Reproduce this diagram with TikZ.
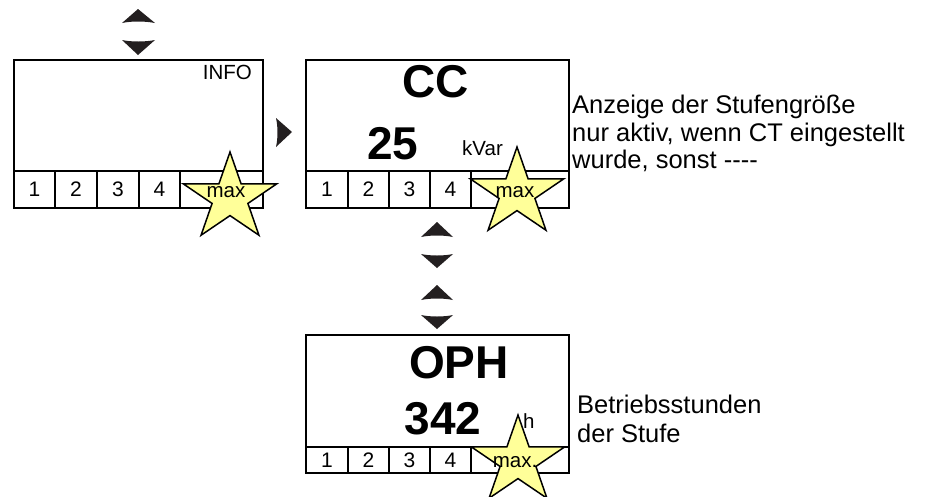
\documentclass[tikz,border=0pt]{standalone}
\usepackage{fontspec}
\setmainfont{Liberation Sans}
\definecolor{tri}{HTML}{231F20}
\definecolor{starfill}{HTML}{FFFF99}
\tikzset{
  frame/.style={draw=black, line width=2pt, inner sep=0pt, anchor=north west},
  cellbox/.style={draw=black, line width=2pt, inner sep=0pt, anchor=north west, font=\fontsize{21}{22}\selectfont},
  small/.style={inner sep=0pt, font=\fontsize{20.5}{22}\selectfont},
  big/.style={inner sep=0pt, anchor=base, font=\fontsize{46}{50}\bfseries\selectfont},
  side/.style={inner sep=0pt, anchor=base west, font=\fontsize{25.5}{28}\selectfont},
  tri/.style={fill=tri, draw=none},
  pics/mystar/.style={code={
    \begin{scope}[xscale=1.07]
    \draw[fill=starfill, draw=black, line width=1.5pt, line join=miter]
      (-90:46) -- (-126:17.6) -- (-162:46) -- (-198:17.6) -- (-234:46) --
      (-270:17.6) -- (-306:46) -- (-342:17.6) -- (-18:46) -- (-54:17.6) -- cycle;
    \end{scope}
  }}
}
\begin{document}
\begin{tikzpicture}[x=1pt,y=-1pt]
\useasboundingbox (0,0) rectangle (936,496);

% ---------- box 1 ----------
\node[frame, minimum width=249pt, minimum height=148pt] (b1) at (13,59) {};
\node[cellbox, minimum width=41pt, minimum height=37pt] (b1c1) at (13,170) {1};
\node[cellbox, minimum width=42pt, minimum height=37pt] (b1c2) at (54,170) {2};
\node[cellbox, minimum width=42pt, minimum height=37pt] (b1c3) at (96,170) {3};
\node[cellbox, minimum width=41pt, minimum height=37pt] (b1c4) at (138,170) {4};
\node[cellbox, minimum width=83pt, minimum height=37pt] (b1c5) at (179,170) {};
\node[small, anchor=base east] (info) at (252,79) {INFO};
\pic at (230,198) {mystar};
\node[small, anchor=base] (max1) at (226,197) {max};

% ---------- box 2 ----------
\node[frame, minimum width=263pt, minimum height=148pt] (b2) at (305,59) {};
\node[cellbox, minimum width=42pt, minimum height=37pt] (b2c1) at (305,170) {1};
\node[cellbox, minimum width=41pt, minimum height=37pt] (b2c2) at (347,170) {2};
\node[cellbox, minimum width=41pt, minimum height=37pt] (b2c3) at (388,170) {3};
\node[cellbox, minimum width=41pt, minimum height=37pt] (b2c4) at (429,170) {4};
\node[cellbox, minimum width=98pt, minimum height=37pt] (b2c5) at (470,170) {};
\node[big] (cc) at (436,97) {CC};
\node[big] (v25) at (393,159) {25};
\node[small, anchor=base west] (kvar) at (462,155) {kVar};
\pic at (517,193) {mystar};
\node[small, anchor=base] (max2) at (515,197) {max};

% ---------- box 3 ----------
\node[frame, minimum width=263pt, minimum height=138pt] (b3) at (305,334) {};
\node[cellbox, minimum width=42pt, minimum height=26pt] (b3c1) at (305,446) {1};
\node[cellbox, minimum width=41pt, minimum height=26pt] (b3c2) at (347,446) {2};
\node[cellbox, minimum width=41pt, minimum height=26pt] (b3c3) at (388,446) {3};
\node[cellbox, minimum width=41pt, minimum height=26pt] (b3c4) at (429,446) {4};
\node[cellbox, minimum width=98pt, minimum height=26pt] (b3c5) at (470,446) {};
\node[big] (oph) at (459,378) {OPH};
\node[big] (v342) at (443,434) {342};
\node[small, anchor=base west] (hunit) at (523,428) {h};
\pic at (518,461) {mystar};
\node[small, anchor=base] (max3) at (515,467) {max.};

% ---------- navigation triangles ----------
\fill[tri] (138,9) -- (155,23) .. controls (145,21) and (131,21) .. (122,23) -- cycle;
\fill[tri] (138,55) -- (155,40) .. controls (145,42) and (131,42) .. (122,40) -- cycle;
\fill[tri] (292,132) -- (276,147) .. controls (278,138) and (278,127) .. (276,118) -- cycle;

\fill[tri] (437,222) -- (453,237) .. controls (444,235) and (430,235) .. (421,237) -- cycle;
\fill[tri] (437,268) -- (453,254) .. controls (444,256) and (430,256) .. (421,254) -- cycle;
\fill[tri] (437,285) -- (453,300) .. controls (444,298) and (430,298) .. (421,300) -- cycle;
\fill[tri] (437,329) -- (453,315) .. controls (444,317) and (430,317) .. (421,315) -- cycle;

% ---------- side texts ----------
\node[side] (s1a) at (572,113) {Anzeige der Stufengröße};
\node[side] (s1b) at (572,141) {nur aktiv, wenn CT eingestellt};
\node[side] (s1c) at (572,168) {wurde, sonst -{}-{}-{}-};
\node[side] (s2a) at (577,413) {Betriebsstunden};
\node[side] (s2b) at (577,442) {der Stufe};
\end{tikzpicture}
\end{document}
